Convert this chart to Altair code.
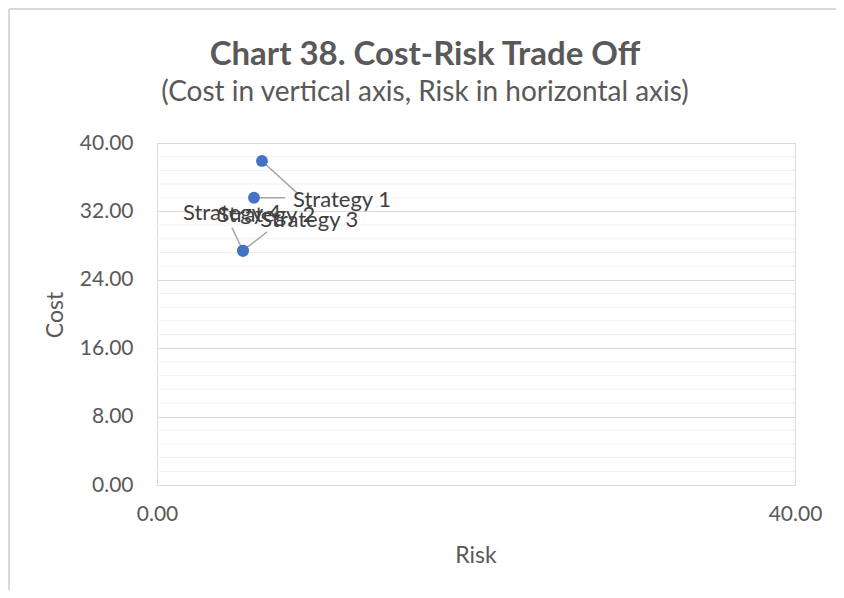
import altair as alt
import pandas as pd

# ---- data ----
strategies = ["Strategy 1", "Strategy 2", "Strategy 3", "Strategy 4"]
risk = [6.58, 6.08, 5.39, 5.39]
cost = [37.9, 33.6, 27.4, 27.4]
# data-label anchor (centre of label text) and leader-line end, in data units
label_risk = [11.6, 6.85, 9.55, 4.7]
label_cost = [33.3, 31.6, 30.95, 31.8]
leader_risk = [8.84, 8.03, 6.9, 4.7]
leader_cost = [34.05, 33.6, 29.6, 30.1]

y_major = [0, 8, 16, 24, 32, 40]
y_minor = [v / 10 for v in range(16, 400, 16) if v % 80 != 0]
x_ticks = [0, 40]

title_text = "Chart 38. Cost-Risk Trade Off"
subtitle_text = "(Cost in vertical axis, Risk in horizontal axis)"

FONT = "Lato"
W, H = 638, 342

df = pd.DataFrame({
    "strategy": strategies, "risk": risk, "cost": cost,
    "lx": label_risk, "ly": label_cost, "ex": leader_risk, "ey": leader_cost,
})

xscale = alt.Scale(domain=[0, 40], nice=False, zero=False)
yscale = alt.Scale(domain=[0, 40], nice=False, zero=False)

y_axis = alt.Axis(values=y_major, format=".2f", ticks=False, grid=True,
                  gridColor="#D9D9D9", domainColor="#D9D9D9",
                  labelFont=FONT, labelFontSize=21, labelColor="#595959",
                  labelPadding=24, title=None)
x_axis = alt.Axis(values=x_ticks, format=".2f", ticks=False, grid=False,
                  domainColor="#D9D9D9", labelFont=FONT, labelFontSize=21,
                  labelColor="#595959", labelPadding=18, labelFlush=False,
                  title=None)

base = alt.Chart(df)

minor = alt.Chart(pd.DataFrame({"m": y_minor})).mark_rule(
    color="#F0F0F0", strokeWidth=1
).encode(y=alt.Y("m:Q", scale=yscale, axis=y_axis, title=None))

points = base.mark_circle(size=140, color="#4472C4", opacity=1).encode(
    x=alt.X("risk:Q", scale=xscale, axis=x_axis, title=None),
    y=alt.Y("cost:Q", scale=yscale, axis=y_axis, title=None),
)

leaders = base.mark_rule(color="#A6A6A6", strokeWidth=1.5).encode(
    x=alt.X("risk:Q", scale=xscale, axis=x_axis, title=None),
    y=alt.Y("cost:Q", scale=yscale, axis=y_axis, title=None),
    x2="ex:Q", y2="ey:Q"
)

labels = base.mark_text(font=FONT, fontSize=22, color="#404040",
                        align="center", baseline="middle").encode(
    x=alt.X("lx:Q", scale=xscale, axis=x_axis, title=None),
    y=alt.Y("ly:Q", scale=yscale, axis=y_axis, title=None),
    text="strategy:N"
)

one = pd.DataFrame({"t": [title_text], "s": [subtitle_text],
                    "xt": ["Risk"], "yt": ["Cost"]})
tb = alt.Chart(one)
title = tb.mark_text(font=FONT, fontSize=33, fontWeight="bold", color="#595959",
                     align="center", baseline="alphabetic").encode(
    text="t:N", x=alt.value(268), y=alt.value(-78))
subtitle = tb.mark_text(font=FONT, fontSize=28, color="#595959",
                        align="center", baseline="alphabetic").encode(
    text="s:N", x=alt.value(268), y=alt.value(-42))
xtitle = tb.mark_text(font=FONT, fontSize=23, color="#595959",
                      align="center", baseline="middle").encode(
    text="xt:N", x=alt.value(319), y=alt.value(413))
ytitle = tb.mark_text(font=FONT, fontSize=23, color="#595959", angle=270,
                      align="center", baseline="middle").encode(
    text="yt:N", x=alt.value(-101), y=alt.value(172))

frame_top = tb.mark_rule(color="#D9D9D9", strokeWidth=2).encode(
    x=alt.value(-148), x2=alt.value(700), y=alt.value(-134))
frame_left = tb.mark_rule(color="#D9D9D9", strokeWidth=2).encode(
    x=alt.value(-148), y=alt.value(-134), y2=alt.value(500))

chart = alt.layer(
    minor, leaders, points, labels, title, subtitle, xtitle, ytitle,
    frame_top, frame_left
).properties(
    width=W, height=H,
    autosize=alt.AutoSizeParams(type="none"),
    padding={"left": 149, "top": 135, "right": 41, "bottom": 105},
).configure_view(stroke="#D9D9D9", strokeWidth=1).configure(background="white")

chart.save("out.html", embed_options={"renderer": "svg", "actions": False})
